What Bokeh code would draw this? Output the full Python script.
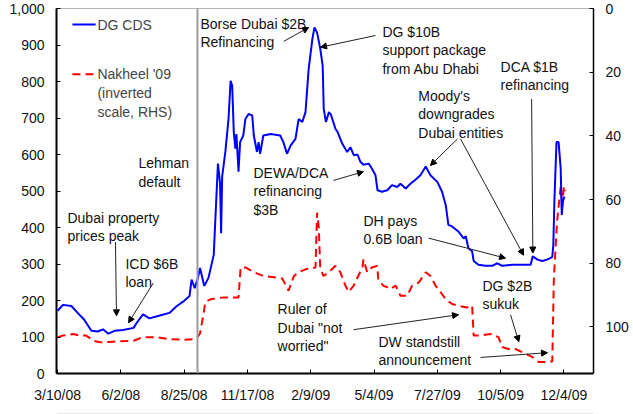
from bokeh.plotting import figure
from bokeh.models import (Range1d, LinearAxis, FixedTicker, NumeralTickFormatter,
                          Span, Label, Arrow, NormalHead)
from bokeh.embed import file_html
from bokeh.resources import INLINE

# ---------------- data ----------------
# x = trading-day index counted from 3/10/08
tick_days = [0, 60, 120, 180, 240, 300, 360, 420, 480]
tick_labels = ["3/10/08", "6/2/08", "8/25/08", "11/17/08", "2/9/09",
               "5/4/09", "7/27/09", "10/5/09", "12/4/09"]

cds_day = [0, 5, 13, 19, 25, 32, 38, 43, 48, 54, 62, 72, 75, 81, 87, 96, 106,
           113, 120, 125, 127, 130, 133, 135, 139, 143, 148, 150, 152, 154, 155,
           156, 159, 162, 164, 165.5, 167, 168.5, 169.5, 171.5, 173, 176, 178,
           181, 184.5, 186, 189, 190.5, 192, 195, 202, 211, 214, 217.5, 221,
           225.5, 228.5, 232, 235, 238, 241.5, 243.5, 246, 249, 251.3, 252.3,
           254.4, 257.2, 259, 263.5, 265.4, 269.8, 274.5, 277.6, 280.8, 284.3,
           287.1, 290, 295, 298.2, 301.4, 303.3, 307.5, 312.5, 317, 322, 325,
           330, 334.5, 339, 344, 349, 353.5, 360, 364.5, 368, 370.5, 374, 380,
           385, 387, 389.5, 393, 394.5, 399, 405.5, 412, 417, 421.5, 431, 440.5,
           448.5, 450.5, 455, 459.5, 464, 469, 470, 471, 473, 475, 477, 478, 479,
           480.5]
cds_bp = [172, 188, 185, 166, 148, 117, 115, 121, 109, 117, 119, 125, 139, 162,
          151, 158, 166, 185, 199, 212, 257, 234, 262, 289, 240, 262, 325, 452,
          575, 520, 384, 540, 607, 697, 802, 788, 662, 616, 656, 553, 634, 652,
          697, 711, 707, 652, 607, 634, 602, 652, 656, 652, 634, 602, 625, 643,
          697, 689, 716, 834, 916, 948, 934, 890, 843, 725, 689, 716, 710, 670,
          662, 630, 607, 620, 598, 600, 580, 572, 575, 560, 543, 502, 498, 502,
          516, 511, 520, 507, 520, 530, 543, 567, 543, 525, 498, 461, 407, 403,
          389, 370, 376, 343, 335, 308, 298, 295, 295, 302, 295, 298, 298, 298,
          321, 312, 308, 312, 319, 352, 471, 634, 634, 561, 434, 471, 485]

nak_day = [0, 5, 15, 21, 27, 34, 40, 53, 72, 81, 94, 106, 119, 128.5, 133, 135,
           138, 140, 145, 157, 171.5, 173.5, 178, 186, 195, 205, 213, 219, 224,
           228.5, 235, 244.5, 246, 247.5, 249, 252, 257, 263.5, 268, 273, 276,
           280.5, 285, 289, 290, 293.5, 298, 303, 304, 309, 312.5, 315.5, 320.5,
           325, 331.5, 336, 342.5, 349, 353.5, 358.5, 363, 368, 374, 380, 388,
           393, 394.5, 401, 410.5, 418, 421.5, 427.5, 434, 440.5, 443.5, 450,
           456, 461, 469, 470.5, 473.5, 477, 478.5, 480, 481]
nak_price = [103.2, 102.7, 102.2, 102.7, 102.7, 104.3, 104.8, 104.6, 104.3,
             103.2, 103.2, 103.8, 104.0, 103.8, 103.0, 102.0, 96.5, 92.2, 91.3,
             90.7, 90.7, 81.3, 81.3, 82.8, 84.0, 84.4, 84.8, 88.6, 84.0, 82.8,
             81.9, 81.3, 64.1, 68.3, 81.3, 84.0, 82.8, 80.8, 82.8, 87.1, 89.0,
             87.1, 84.0, 81.3, 78.8, 82.8, 81.3, 80.8, 85.0, 87.1, 87.5, 88.1,
             87.0, 90.2, 90.2, 87.1, 86.0, 82.8, 84.0, 87.1, 89.0, 91.3, 92.8,
             93.3, 93.9, 93.3, 102.7, 102.7, 102.2, 103.2, 106.3, 106.9, 106.9,
             107.9, 108.4, 109.4, 111.0, 111.0, 110.8, 85.0, 67.0, 55.8, 62.0,
             55.8, 57.4]

lehman_day = 132.6

left_ticks = list(range(0, 1001, 100))
right_ticks = [0, 20, 40, 60, 80, 100]

FONT = "Liberation Sans"
FS = "14px"

# ---------------- figure ----------------
p = figure(width=633, height=414, output_backend="svg", toolbar_location=None,
           x_range=Range1d(-1.1, 508.1), y_range=Range1d(0, 1000),
           min_border_left=56, min_border_right=40, min_border_top=8,
           min_border_bottom=38)
p.extra_y_ranges = {"nak": Range1d(start=114.6, end=0)}
p.xgrid.visible = False
p.ygrid.visible = False
p.outline_line_color = "#b4b4b4"
p.outline_line_width = 1
p.background_fill_color = "white"
p.border_fill_color = "white"

# left axis
ya = p.yaxis[0]
ya.ticker = FixedTicker(ticks=left_ticks)
ya.formatter = NumeralTickFormatter(format="0,0")
ya.major_tick_in = 4
ya.major_tick_out = 0
ya.minor_tick_line_color = None
ya.axis_line_width = 2
ya.axis_line_color = "black"
ya.major_label_standoff = 12
ya.major_label_text_font = FONT
ya.major_label_text_font_size = FS
ya.major_label_text_color = "#111111"

# bottom axis
xa = p.xaxis[0]
xa.ticker = FixedTicker(ticks=tick_days)
xa.major_label_overrides = {d: l for d, l in zip(tick_days, tick_labels)}
xa.major_tick_in = 4
xa.major_tick_out = 0
xa.minor_tick_line_color = None
xa.axis_line_width = 2
xa.axis_line_color = "black"
xa.major_label_standoff = 13
xa.major_label_text_font = FONT
xa.major_label_text_font_size = FS
xa.major_label_text_color = "#111111"
xa.axis_label = " "
xa.axis_label_standoff = 0
xa.axis_label_text_font_size = "6px"

# right axis (inverted)
ra = LinearAxis(y_range_name="nak", ticker=FixedTicker(ticks=right_ticks),
                major_tick_in=4, major_tick_out=0, minor_tick_line_color=None,
                axis_line_width=1.5, axis_line_color="black",
                major_label_standoff=12, major_label_text_font=FONT,
                major_label_text_font_size=FS, major_label_text_color="#111111")
p.add_layout(ra, "right")

# grey rule under the date labels
ga = LinearAxis(ticker=FixedTicker(ticks=[-1000]), axis_line_color="#9a9a9a",
                axis_line_width=1.5, major_tick_line_color=None,
                minor_tick_line_color=None, major_label_text_font_size="1px",
                major_label_text_color=None, major_label_standoff=0)
p.add_layout(ga, "below")

# Lehman vertical line
p.add_layout(Span(location=lehman_day, dimension="height",
                  line_color="#9a9a9a", line_width=2))

# series
p.line(nak_day, nak_price, y_range_name="nak", line_color="#ff0000",
       line_width=2, line_dash="8 5")
p.line(cds_day, cds_bp, line_color="#0000ff", line_width=2)

# legend (manual, to keep the multi-line label beside the first line)
p.add_layout(Arrow(end=None, x_start=14, y_start=956, x_end=36, y_end=956,
                   line_color="#0000ff", line_width=2))
p.add_layout(Arrow(end=None, x_start=14, y_start=820, x_end=36, y_end=820,
                   line_color="#ff0000", line_width=2, line_dash="8 5"))
p.add_layout(Label(x=37.7, y=956, text="DG CDS", text_font=FONT,
                   text_font_size=FS, text_baseline="middle"))
p.add_layout(Label(x=37.7, y=843, text="Nakheel '09\n(inverted\nscale, RHS)",
                   text_font=FONT, text_font_size=FS, text_baseline="top",
                   text_line_height=1.2))

# annotations: (text, x, y_top)
notes = [
    ("Borse Dubai $2B\nRefinancing", 135.4, 980),
    ("DG $10B\nsupport package\nfrom Abu Dhabi", 308, 958),
    ("DCA $1B\nrefinancing", 420, 862),
    ("Moody's\ndowngrades\nDubai entities", 342, 783),
    ("Lehman\ndefault", 76.6, 598),
    ("DEWA/DCA\nrefinancing\n$3B", 185.7, 571),
    ("Dubai property\nprices peak", 9.3, 448),
    ("ICD $6B\nloan", 64.3, 323),
    ("Ruler of\nDubai \"not\nworried\"", 208.5, 198),
    ("DH pays\n0.6B loan", 290, 440),
    ("DG $2B\nsukuk", 402.8, 263),
    ("DW standstill\nannouncement", 304.2, 108),
]
for t, x, y in notes:
    p.add_layout(Label(x=x, y=y, text=t, text_font=FONT, text_font_size=FS,
                       text_baseline="top", text_align="left",
                       text_line_height=1.15, text_color="#111111"))

arrows = [
    (214.4, 910, 238, 948),
    (301.4, 926, 249.3, 894),
    (449.4, 752, 450.6, 330),
    (379.2, 643, 353.5, 570),
    (382, 643, 441.8, 324),
    (261.6, 529, 290, 553),
    (54.8, 360, 55.8, 158),
    (90.7, 248, 67.2, 139),
    (280.6, 120, 380.1, 161),
    (351.6, 371, 424.7, 316),
    (429.4, 161, 437.3, 87),
    (401, 44, 464.5, 57),
]
for xs, ys, xe, ye in arrows:
    p.add_layout(Arrow(end=NormalHead(size=6, fill_color="black",
                                      line_color="black", line_width=1),
                       x_start=xs, y_start=ys, x_end=xe, y_end=ye,
                       line_color="#222222", line_width=1))

open("out.html", "w").write(file_html(p, INLINE))
